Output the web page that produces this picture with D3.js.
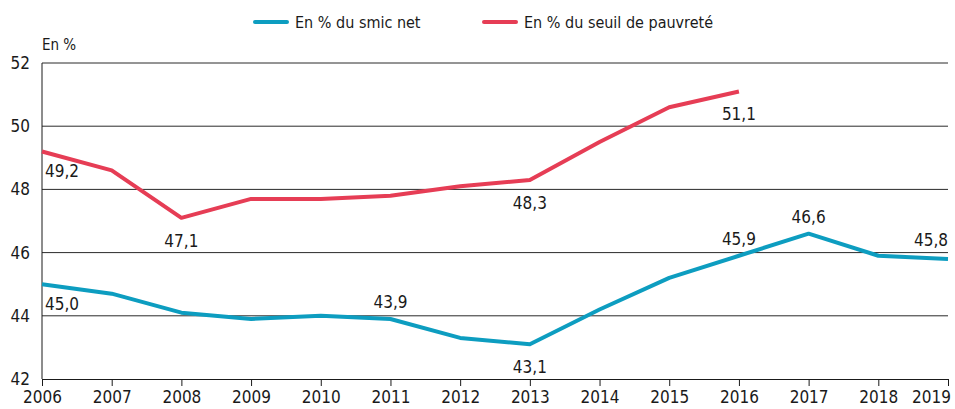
<!DOCTYPE html>
<html>
<head>
<meta charset="utf-8">
<script src="https://cdn.jsdelivr.net/npm/d3@7"></script>
<style>
  body { margin: 0; background: #fff; }
  svg text { font-family: "DejaVu Sans Condensed", "Liberation Sans Narrow", sans-serif; font-stretch: condensed; fill: #1a1a1a; }
</style>
</head>
<body>
<div id="chart"></div>
<script>
// data
var years = [2006, 2007, 2008, 2009, 2010, 2011, 2012, 2013, 2014, 2015, 2016, 2017, 2018, 2019]
var smicNet = [45.0, 44.7, 44.1, 43.9, 44.0, 43.9, 43.3, 43.1, 44.2, 45.2, 45.9, 46.6, 45.9, 45.8]
var seuilPauvrete = [49.2, 48.6, 47.1, 47.7, 47.7, 47.8, 48.1, 48.3, 49.5, 50.6, 51.1]
var yTicks = [42, 44, 46, 48, 50, 52]
var seriesNames = ["En % du smic net", "En % du seuil de pauvreté"]
// labelled points: year index, placement
var smicLabels = [[0, "below-left"], [5, "above"], [7, "below"], [10, "above"], [11, "above"], [13, "above-right"]]
var seuilLabels = [[0, "below-left"], [2, "below"], [7, "below"], [10, "below"]]

var width = 955, height = 409
var margin = {top: 63, right: 7, bottom: 30, left: 42}

var svg = d3.select("#chart").append("svg")
    .attr("width", width)
    .attr("height", height)

var x = d3.scaleLinear()
    .domain([2006, 2019])
    .range([margin.left, width - margin.right])

var y = d3.scaleLinear()
    .domain([42, 52])
    .range([height - margin.bottom, margin.top])

// gridlines
svg.append("g")
  .selectAll("line")
  .data(yTicks.filter(function(d){ return d > 42 }))
  .enter().append("line")
    .attr("x1", x(2006)).attr("x2", x(2019))
    .attr("y1", function(d){ return y(d) }).attr("y2", function(d){ return y(d) })
    .attr("stroke", "#2a2a2a").attr("stroke-width", 1)

// y tick labels
svg.append("g")
  .selectAll("text")
  .data(yTicks)
  .enter().append("text")
    .attr("x", 30).attr("y", function(d){ return y(d) })
    .attr("dy", "0.35em")
    .attr("text-anchor", "end")
    .style("font-size", "17px")
    .text(function(d){ return d })

svg.append("text")
  .attr("x", 42).attr("y", 50)
  .style("font-size", "15px")
  .text("En %")

// left axis line
svg.append("line")
  .attr("x1", x(2006)).attr("x2", x(2006))
  .attr("y1", y(52)).attr("y2", y(42))
  .attr("stroke", "#1a1a1a")

// bottom axis
var xAxis = svg.append("g")
  .attr("transform", "translate(0," + y(42) + ")")
  .call(d3.axisBottom(x).tickValues(years).tickFormat(d3.format("d")).tickSize(7).tickSizeOuter(0))
xAxis.select(".domain").attr("stroke", "#1a1a1a")
xAxis.selectAll(".tick line").attr("stroke", "#1a1a1a")
xAxis.selectAll("text").style("font-size", "17px").attr("dy", "0.85em").attr("fill", "#1a1a1a")
  .attr("dx", function(d){ return d == 2019 ? "-17" : "0" })

var line = d3.line()
    .x(function(d, i){ return x(years[i]) })
    .y(function(d){ return y(d) })

var colors = ["#0d9dc0", "#e63d55"]

svg.append("path").datum(seuilPauvrete)
  .attr("fill", "none").attr("stroke", colors[1]).attr("stroke-width", 4)
  .attr("stroke-linejoin", "round").attr("d", line)

svg.append("path").datum(smicNet)
  .attr("fill", "none").attr("stroke", colors[0]).attr("stroke-width", 4)
  .attr("stroke-linejoin", "round").attr("d", line)

function fmt(v){ return v.toFixed(1).replace(".", ",") }

function addLabels(labels, values){
  labels.forEach(function(l){
    var i = l[0], pos = l[1]
    var px = x(years[i]), py = y(values[i])
    var t = svg.append("text").style("font-size", "17px").text(fmt(values[i]))
    if (pos == "below-left") { t.attr("x", px + 3).attr("y", py + 26) }
    else if (pos == "below") { t.attr("x", px).attr("y", py + 29).attr("text-anchor", "middle") }
    else if (pos == "above") { t.attr("x", px).attr("y", py - 11).attr("text-anchor", "middle") }
    else if (pos == "above-right") { t.attr("x", px).attr("y", py - 13).attr("text-anchor", "end") }
  })
}
addLabels(smicLabels, smicNet)
addLabels(seuilLabels, seuilPauvrete)

// legend
var legendX = [255, 484]
seriesNames.forEach(function(name, i){
  svg.append("line")
    .attr("x1", legendX[i]).attr("x2", legendX[i] + 32)
    .attr("y1", 22).attr("y2", 22)
    .attr("stroke", colors[i]).attr("stroke-width", 4).attr("stroke-linecap", "round")
  svg.append("text")
    .attr("x", legendX[i] + 40).attr("y", 28)
    .style("font-size", "16px")
    .text(name)
})
</script>
</body>
</html>
